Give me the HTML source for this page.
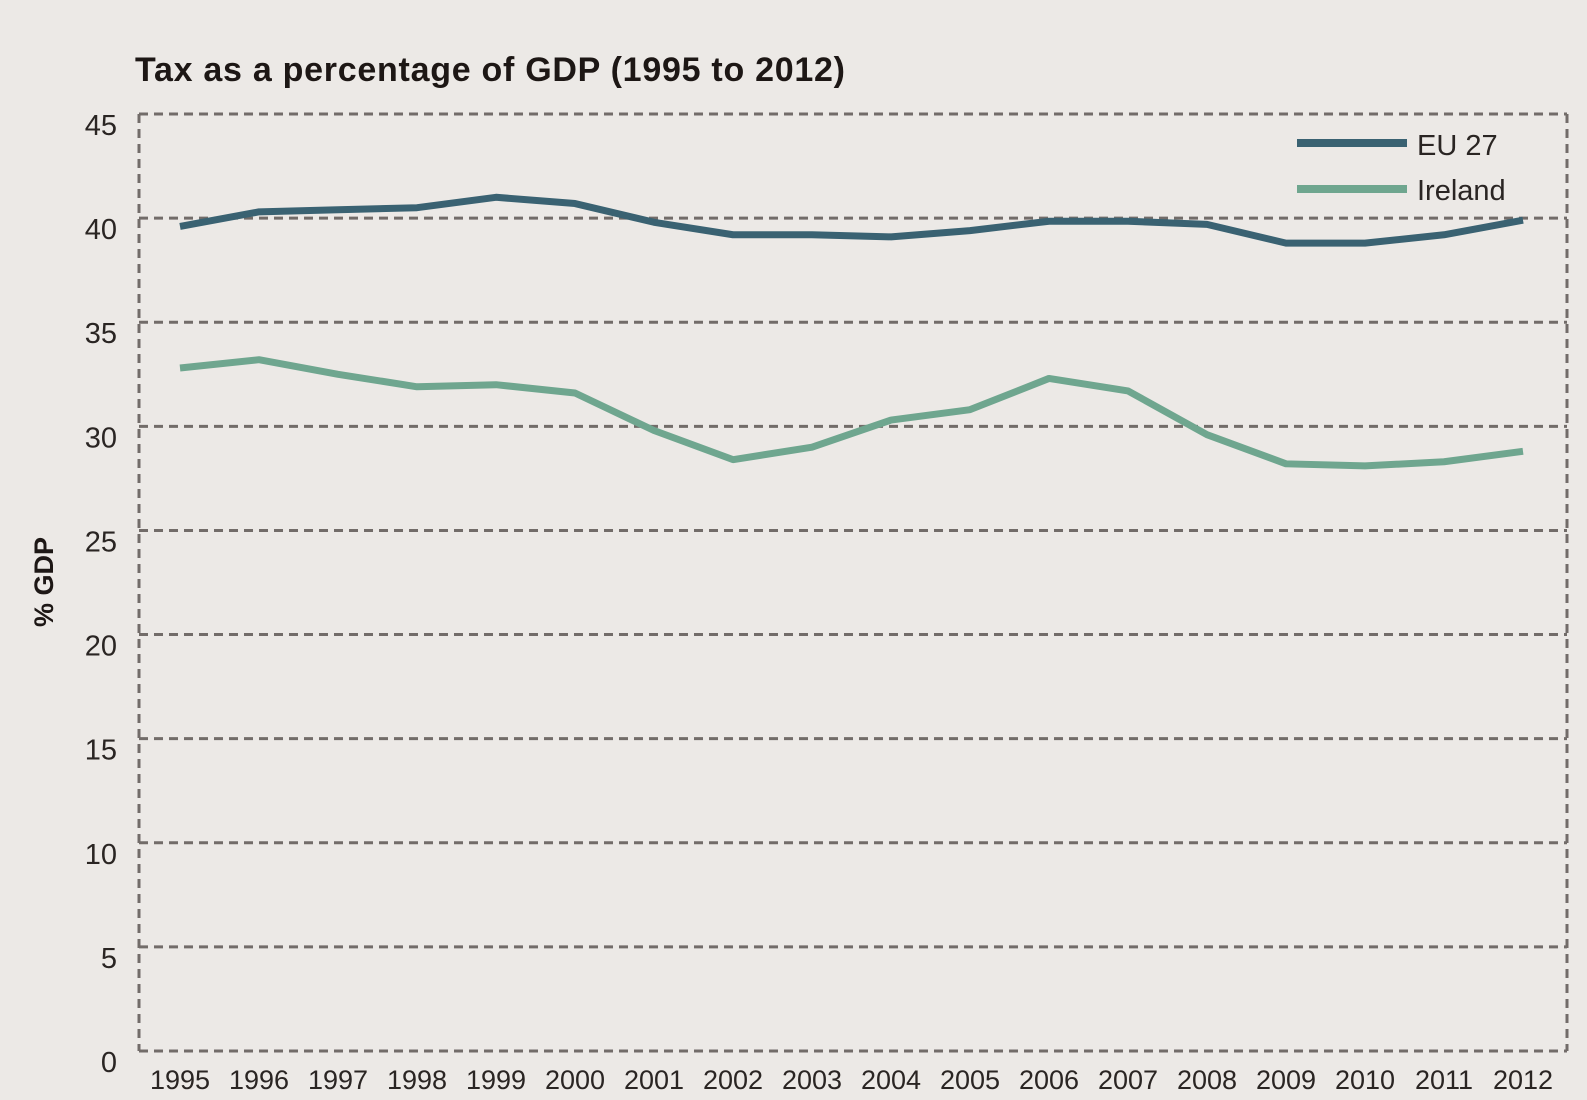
<!DOCTYPE html>
<html><head><meta charset="utf-8"><style>
html,body{margin:0;padding:0;background:#ece9e6;}
svg{display:block;font-family:"Liberation Sans",sans-serif;}
</style></head><body>
<svg id="chart" width="1587" height="1100" viewBox="0 0 1587 1100">
<rect width="1587" height="1100" fill="#ece9e6"/>
<text x="135" y="81" font-size="34" font-weight="bold" fill="#1d1715" textLength="710">Tax as a percentage of GDP (1995 to 2012)</text>
<text transform="translate(53,582) rotate(-90)" text-anchor="middle" font-size="27" font-weight="bold" fill="#1d1715">% GDP</text>
<g id="grid"></g><g id="ylabels"></g><g id="xlabels"></g><g id="lines"></g>
<g>
<line x1="1297" y1="143" x2="1407" y2="143" stroke="#3a6272" stroke-width="8"/>
<text x="1417" y="155" font-size="29" fill="#2a2523">EU 27</text>
<line x1="1297" y1="189" x2="1407" y2="189" stroke="#6fa68f" stroke-width="8"/>
<text x="1417" y="200" font-size="29" fill="#2a2523">Ireland</text>
</g>
</svg>
<script>
const years=[1995,1996,1997,1998,1999,2000,2001,2002,2003,2004,2005,2006,2007,2008,2009,2010,2011,2012];
const eu27=[39.6,40.3,40.4,40.5,41.0,40.7,39.8,39.2,39.2,39.1,39.4,39.85,39.85,39.7,38.8,38.8,39.2,39.9];
const ireland=[32.8,33.2,32.5,31.9,32.0,31.6,29.8,28.4,29.0,30.3,30.8,32.3,31.7,29.6,28.2,28.1,28.3,28.8];
const yTicks=[0,5,10,15,20,25,30,35,40,45];
const NS="http://www.w3.org/2000/svg";
const L=139,R=1567,T=114,B=1051;
const y=v=>B-(v/45)*(B-T);
const x=i=>180+i*(1523-180)/(years.length-1);
function mk(tag,attrs,parent){const e=document.createElementNS(NS,tag);for(const k in attrs)e.setAttribute(k,attrs[k]);document.getElementById(parent).appendChild(e);return e;}
yTicks.forEach(t=>{
  if(t>0){const g=mk('line',{x1:L,x2:R,y1:y(t),y2:y(t),stroke:'#726c69','stroke-width':3,'stroke-dasharray':'9 6'},'grid');
  
  }
  const lb=mk('text',{x:117,y:y(t)+21,'text-anchor':'end','font-size':29,fill:'#2a2523'},'ylabels');
  lb.textContent=t;
  
  
});
[[L,T,L,B],[R,T,R,B],[L,B,R,B]].forEach((c,i)=>{
  const a=mk('line',{x1:c[0],y1:c[1],x2:c[2],y2:c[3],stroke:'#726c69','stroke-width':3,'stroke-dasharray':'9 6'},'grid');
  
  
});
years.forEach((yr,i)=>{
  const t=mk('text',{x:x(i),y:1089,'text-anchor':'middle','font-size':27,fill:'#2a2523'},'xlabels');
  t.textContent=yr;
  
  
});
function series(vals,color,name){
  const p=mk('polyline',{points:vals.map((v,i)=>x(i)+','+y(v)).join(' '),fill:'none',stroke:color,'stroke-width':7,'stroke-linejoin':'round'},'lines');
  
  
}
series(eu27,'#3a6272','eu27-line');
series(ireland,'#6fa68f','ireland-line');
</script>
</body></html>
